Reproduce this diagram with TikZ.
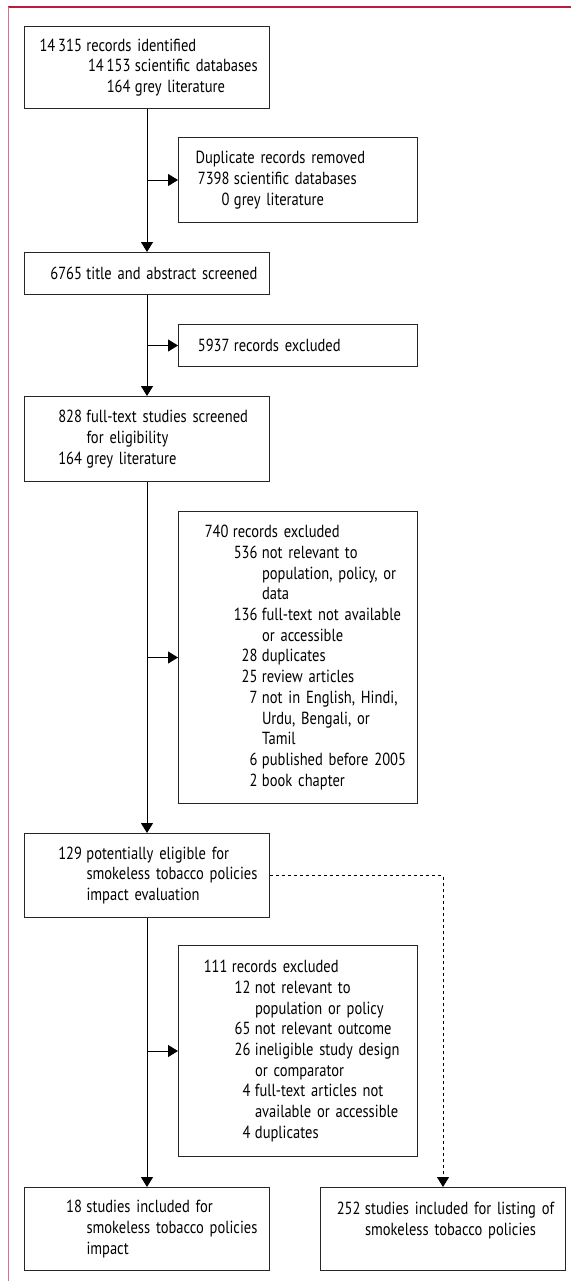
\documentclass[tikz,border=0pt]{standalone}
\usepackage{fontspec}
\setmainfont{PT Sans}[FakeStretch=0.83]
\usetikzlibrary{arrows.meta}
\definecolor{lancetred}{RGB}{186,28,62}
\definecolor{lancetpink}{RGB}{222,110,140}
\newcommand{\numln}[3]{\makebox[#1][r]{#2}\hspace{4.5pt}\mbox{#3}}
\newcommand{\contln}[2]{\hspace*{#1}\hspace*{4.5pt}\mbox{#2}}
\begin{document}
\begin{tikzpicture}[x=1pt,y=1pt,
	box/.style={draw=black!85, line width=1pt, anchor=north west, inner xsep=0pt, inner ysep=0pt,
		align=left, font=\fontsize{17.5}{20.7}\selectfont},
	wide/.style={box, text width=245pt},
	side/.style={box, text width=239pt},
	flow/.style={line width=1pt, -{Triangle[length=10pt,width=12pt]}},
	dots/.style={flow, dash pattern=on 3pt off 3pt}]
		\useasboundingbox (0,0) rectangle (571,-1283);
		\draw [lancetred, line width=2pt] (8,-7) -- (571,-7);
		\draw [lancetpink, line width=1.5pt] (8.5,-7) -- (8.5,-1281);
		% left column
		\node [wide, minimum height=82pt] (idf) at (24,-26) {\numln{57.5pt}{14\,315}{records identified}\\ \numln{106pt}{14\,153}{scientific databases}\\ \numln{106pt}{164}{grey literature}};
		\node [wide, minimum height=42pt] (scr) at (24,-252) {\numln{57.5pt}{6765}{title and abstract screened}};
		\node [wide, minimum height=85pt] (ful) at (24,-396) {\numln{57.5pt}{828}{full-text studies screened}\\ \contln{57.5pt}{for eligibility}\\ \numln{57.5pt}{164}{grey literature}};
		\node [wide, minimum height=84pt] (elg) at (24,-833) {\numln{57.5pt}{129}{potentially eligible for}\\ \contln{57.5pt}{smokeless tobacco policies}\\ \contln{57.5pt}{impact evaluation}};
		\node [wide, minimum height=83pt] (inc) at (24,-1187) {\numln{57.5pt}{18}{studies included for}\\ \contln{57.5pt}{smokeless tobacco policies}\\ \contln{57.5pt}{impact}};
		% exclusions
		\node [side, minimum height=85pt] (dup) at (178,-137) {\hspace*{17pt}Duplicate records removed\\ \numln{51pt}{7398}{scientific databases}\\ \numln{51pt}{0}{grey literature}};
		\node [side, minimum height=42pt] (exa) at (178,-324) {\numln{51pt}{5937}{records excluded}};
		\node [side, minimum height=292pt] (exb) at (178,-511) {\numln{50pt}{740}{records excluded}\\ \numln{79pt}{536}{not relevant to}\\ \contln{79pt}{population, policy, or}\\ \contln{79pt}{data}\\ \numln{79pt}{136}{full-text not available}\\ \contln{79pt}{or accessible}\\ \numln{79pt}{28}{duplicates}\\ \numln{79pt}{25}{review articles}\\ \numln{79pt}{7}{not in English, Hindi,}\\ \contln{79pt}{Urdu, Bengali, or}\\ \contln{79pt}{Tamil}\\ \numln{79pt}{6}{published before 2005}\\ \numln{79pt}{2}{book chapter}};
		\node [side, minimum height=211pt] (exc) at (178,-945) {\numln{49pt}{111}{records excluded}\\ \numln{72pt}{12}{not relevant to}\\ \contln{72pt}{population or policy}\\ \numln{72pt}{65}{not relevant outcome}\\ \numln{72pt}{26}{ineligible study design}\\ \contln{72pt}{or comparator}\\ \numln{72pt}{4}{full-text articles not}\\ \contln{72pt}{available or accessible}\\ \numln{72pt}{4}{duplicates}};
		\node [wide, minimum height=83pt] (lst) at (320,-1187) {\numln{40pt}{252}{studies included for listing of}\\ \contln{40pt}{smokeless tobacco policies}\\ \mbox{}};
		% arrows
		\draw [flow] (idf.south) -- (scr.north);
		\draw [flow] (idf.south |- dup.west) -- (dup.west);
		\draw [flow] (scr.south) -- (ful.north);
		\draw [flow] (scr.south |- exa.west) -- (exa.west);
		\draw [flow] (ful.south) -- (elg.north);
		\draw [flow] (ful.south |- exb.west) -- (exb.west);
		\draw [flow] (elg.south) -- (inc.north);
		\draw [flow] (elg.south |- exc.west) -- (exc.west);
		\draw [dots] (elg.east) -| (lst.north);
\end{tikzpicture}
\end{document}
